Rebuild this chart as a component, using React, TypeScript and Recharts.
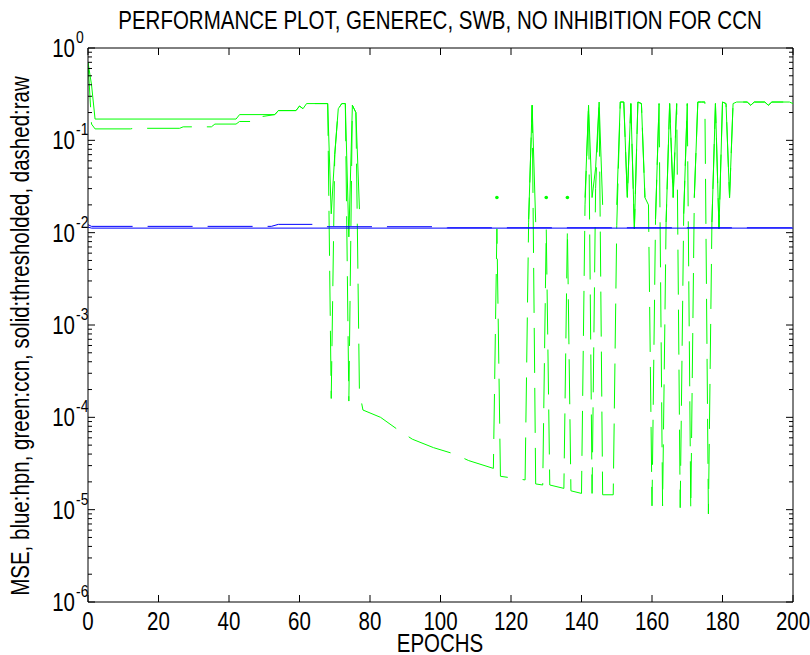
import React from 'react';
import { LineChart, Line, XAxis, YAxis, ReferenceLine } from 'recharts';

// axis ticks
const epochTicks = [0, 20, 40, 60, 80, 100, 120, 140, 160, 180, 200];
const decadeTicks = [1e-6, 1e-5, 1e-4, 1e-3, 1e-2, 1e-1, 1];
const minorMultipliers = [2, 3, 4, 5, 6, 7, 8, 9];

// hpn (blue)
const hpnThrEpochs = [0, 1, 200];
const hpnThrMse = [0.0115, 0.0112, 0.0112];
const hpnRawEpochs = [0, 1, 52, 54, 64, 66, 100, 102, 200];
const hpnRawMse = [0.0122, 0.0117, 0.0117, 0.0123, 0.0123, 0.0116, 0.0116, 0.0113, 0.0113];

// ccn (green), thresholded; null = zero error, not drawable on a log axis
const ccnThrEpochs = [
  0, 1, 2, 42, 43, 53, 54, 59, 60, 61,
  62, 68, 69, 70, 71, 72, 73, 74, 75, 76,
  77, 78, 115, 116, 117, 124, 125, 126, 127, 128,
  129, 130, 131, 135, 136, 137, 140, 141, 142, 143,
  144, 145, 146, 147, 149, 150, 151, 152, 153, 154,
  155, 156, 157, 158, 159, 160, 161, 162, 163, 164,
  165, 166, 167, 168, 169, 170, 171, 172, 173, 174,
  175, 176, 177, 178, 179, 180, 181, 182, 183, 184,
  187, 188, 189, 192, 193, 194, 199, 200,
];
const ccnThrMse = [
  0.7, 0.4, 0.17, 0.17, 0.19, 0.19, 0.21, 0.21, 0.235, 0.22,
  0.25, 0.25, 0.016, 0.07, 0.22, 0.25, 0.25, 0.009, 0.24, 0.2,
  0.018, null, null, 0.024, null, null, 0.014, 0.24, 0.013, null,
  null, 0.024, null, null, 0.024, null, null, 0.024, 0.24, 0.024,
  0.05, 0.26, 0.02, null, null, 0.02, 0.26, 0.26, 0.024, 0.25,
  0.011, 0.26, 0.25, 0.024, null, null, 0.014, 0.25, null, 0.013,
  0.25, 0.024, 0.25, null, 0.016, 0.25, null, 0.024, 0.26, 0.26,
  0.26, null, 0.013, 0.25, 0.011, 0.26, 0.25, 0.024, 0.25, 0.26,
  0.26, 0.24, 0.26, 0.26, 0.24, 0.26, 0.26, 0.25,
];

// ccn (green), raw
const ccnRawEpochs = [
  0, 1, 2, 12, 13, 26, 27, 35, 36, 42,
  43, 48, 49, 53, 54, 59, 60, 61, 62, 68,
  69, 70, 71, 72, 73, 74, 75, 76, 77, 78,
  83, 88, 92, 98, 104, 108, 115, 116, 117, 124,
  125, 126, 127, 129, 130, 131, 135, 136, 137, 140,
  141, 142, 143, 144, 145, 146, 149, 150, 151, 152,
  153, 154, 155, 156, 157, 158, 159, 160, 161, 162,
  163, 164, 165, 166, 167, 168, 169, 170, 171, 172,
  173, 174, 175, 176, 177, 178, 179, 180, 181, 182,
  183, 184, 187, 188, 189, 192, 193, 194, 199, 200,
];
const ccnRawMse = [
  0.7, 0.15, 0.133, 0.133, 0.135, 0.135, 0.14, 0.14, 0.15, 0.15,
  0.16, 0.16, 0.18, 0.19, 0.21, 0.21, 0.235, 0.22, 0.25, 0.25,
  1.6e-4, 0.07, 0.22, 0.25, 0.25, 1.5e-4, 0.24, 0.2, 1.9e-4, 1.2e-4,
  1.0e-4, 7.3e-5, 5.8e-5, 4.7e-5, 4.0e-5, 3.4e-5, 2.8e-5, 0.011, 2.3e-5, 2.1e-5,
  0.013, 0.24, 1.9e-5, 1.85e-5, 0.011, 1.85e-5, 1.7e-5, 0.011, 1.6e-5, 1.5e-5,
  0.02, 0.24, 1.5e-5, 0.03, 0.26, 1.45e-5, 1.45e-5, 0.012, 0.26, 0.26,
  0.024, 0.25, 0.011, 0.26, 0.25, 0.024, 0.02, 1.1e-5, 0.014, 0.25,
  1.1e-5, 0.013, 0.25, 0.024, 0.25, 1.05e-5, 0.016, 0.25, 1.0e-5, 0.024,
  0.26, 0.26, 0.26, 9e-6, 0.013, 0.25, 0.011, 0.26, 0.25, 0.024,
  0.25, 0.26, 0.26, 0.24, 0.26, 0.26, 0.24, 0.26, 0.26, 0.25,
];

const toRows = (epochs: number[], mse: (number | null)[]) =>
  epochs.map((epoch, i) => ({ epoch, value: mse[i] }));

const hpnThr = toRows(hpnThrEpochs, hpnThrMse);
const hpnRaw = toRows(hpnRawEpochs, hpnRawMse);
const ccnThr = toRows(ccnThrEpochs, ccnThrMse);
const ccnRaw = toRows(ccnRawEpochs, ccnRawMse);

const yTicks = [
  ...decadeTicks,
  ...decadeTicks.slice(0, -1).flatMap((d) => minorMultipliers.map((m) => m * d)),
].sort((a, b) => a - b);

// plot box in page pixels
const PL = 88;
const PR = 793;
const PT = 48;
const PB = 602;
const FONT = "'Liberation Sans', Arial, sans-serif";
const NARROW = 0.82; // squeeze Liberation Sans to look like Helvetica Narrow
const GREEN = '#00ff00';
const BLUE = '#0000ff';
const DASH = '45 15';

// narrow text: x, y is the anchor point, rotate in degrees
const NText = ({ x, y, size, anchor = 'start', rotate = 0, children }: any) => (
  <text
    transform={`translate(${x},${y}) rotate(${rotate}) scale(${NARROW},1)`}
    x={0}
    y={0}
    textAnchor={anchor}
    fontFamily={FONT}
    fontSize={size}
    fill="#000"
  >
    {children}
  </text>
);

const YTick = (props: any) => {
  const { y, payload } = props;
  const v = payload.value;
  const e = Math.round(Math.log10(v));
  const major = Math.abs(Math.log10(v) - e) < 1e-6;
  const len = major ? 7 : 4;
  return (
    <g>
      <line x1={PL} x2={PL + len} y1={y} y2={y} stroke="#000" />
      <line x1={PR} x2={PR - len} y1={y} y2={y} stroke="#000" />
      {major && (
        <>
          <NText x={75} y={y + 9} size={25} anchor="end">10</NText>
          <NText x={76} y={y - 5} size={17}>{e}</NText>
        </>
      )}
    </g>
  );
};

const XTick = (props: any) => {
  const { x, payload } = props;
  return (
    <g>
      <line x1={x} x2={x} y1={PB} y2={PB - 7} stroke="#000" />
      <line x1={x} x2={x} y1={PT} y2={PT + 7} stroke="#000" />
      <NText x={x} y={630} size={25} anchor="middle">{payload.value}</NText>
    </g>
  );
};

const lonelyDot = (rows: { epoch: number; value: number | null }[]) => (props: any) => {
  const { cx, cy, index } = props;
  const here = rows[index]?.value;
  const prev = rows[index - 1]?.value;
  const next = rows[index + 1]?.value;
  if (here == null || prev != null || next != null || cx == null || cy == null) {
    return <g key={`d${index}`} />;
  }
  return <circle key={`d${index}`} cx={cx} cy={cy} r={1.8} fill={GREEN} stroke="none" />;
};

export default function App() {
  return (
    <div style={{ position: 'absolute', left: 0, top: 0, width: 810, height: 655, background: '#fff' }}>
      <LineChart width={810} height={655} margin={{ top: PT, right: 810 - PR, bottom: 0, left: 0 }}>
        <XAxis
          type="number"
          dataKey="epoch"
          domain={[0, 200]}
          ticks={epochTicks}
          interval={0}
          height={655 - PB}
          tickSize={0}
          tickMargin={0}
          tick={<XTick />}
          axisLine={{ stroke: '#000' }}
          allowDataOverflow
        />
        <YAxis
          type="number"
          scale="log"
          domain={[1e-6, 1]}
          ticks={yTicks}
          interval={0}
          width={PL}
          tickSize={0}
          tickMargin={0}
          tick={<YTick />}
          axisLine={{ stroke: '#000' }}
          allowDataOverflow
        />
        <ReferenceLine y={1} stroke="#000" />
        <ReferenceLine x={200} stroke="#000" />
        <Line data={ccnThr} dataKey="value" stroke={GREEN} strokeWidth={1} dot={lonelyDot(ccnThr)} activeDot={false} isAnimationActive={false} />
        <Line data={ccnRaw} dataKey="value" stroke={GREEN} strokeWidth={1} strokeDasharray={DASH} dot={false} activeDot={false} isAnimationActive={false} />
        <Line data={hpnThr} dataKey="value" stroke={BLUE} strokeWidth={1} dot={false} activeDot={false} isAnimationActive={false} />
        <Line data={hpnRaw} dataKey="value" stroke={BLUE} strokeWidth={1} strokeDasharray={DASH} dot={false} activeDot={false} isAnimationActive={false} />
      </LineChart>
      <svg width={810} height={655} style={{ position: 'absolute', left: 0, top: 0, pointerEvents: 'none' }}>
        <NText x={440} y={29} size={25} anchor="middle">
          PERFORMANCE PLOT, GENEREC, SWB, NO INHIBITION FOR CCN
        </NText>
        <NText x={440} y={652} size={25} anchor="middle">EPOCHS</NText>
        <NText x={29} y={336} size={25} anchor="middle" rotate={-90}>
          MSE, blue:hpn, green:ccn, solid:thresholded, dashed:raw
        </NText>
      </svg>
    </div>
  );
}
